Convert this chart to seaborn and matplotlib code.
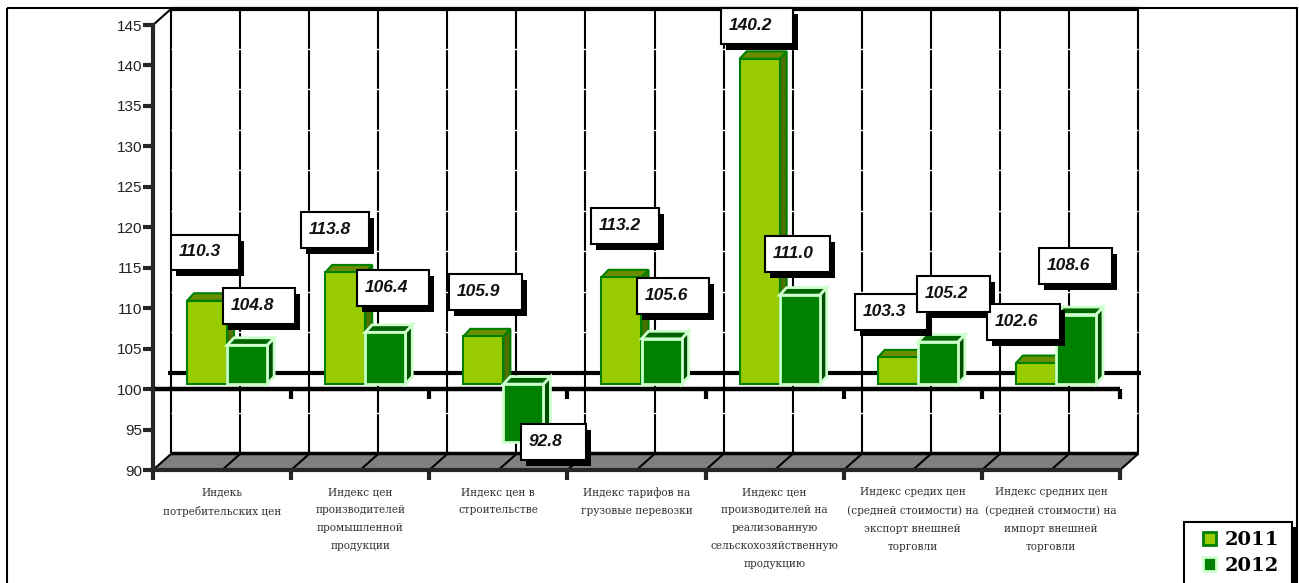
import numpy as np
import pandas as pd
import seaborn as sns
import matplotlib.pyplot as plt
from matplotlib.patches import Patch, Polygon, Rectangle
from matplotlib.transforms import Affine2D

categories = [
    "Индекь\nпотребительских цен",
    "Индекс цен\nпроизводителей\nпромышленной\nпродукции",
    "Индекс цен в\nстроительстве",
    "Индекс тарифов на\nгрузовые перевозки",
    "Индекс цен\nпроизводителей на\nреализованную\nсельскохозяйственную\nпродукцию",
    "Индекс средих цен\n(средней стоимости) на\nэкспорт внешней\nторговли",
    "Индекс средних цен\n(средней стоимости) на\nимпорт внешней\nторговли",
]
values_2011 = [110.3, 113.8, 105.9, 113.2, 140.2, 103.3, 102.6]
values_2012 = [104.8, 106.4, 92.8, 105.6, 111.0, 105.2, 108.6]
y_ticks = [90, 95, 100, 105, 110, 115, 120, 125, 130, 135, 140, 145]

# label boxes in image pixels: left, top, right, bottom
boxes_2011 = [(171, 235, 239, 270), (301, 212, 369, 248), (449, 274, 522, 310), (591, 208, 659, 244),
              (721, 8, 793, 44), (855, 294, 927, 330), (987, 304, 1060, 340)]
boxes_2012 = [(223, 288, 295, 324), (357, 270, 429, 306), (521, 424, 586, 460), (637, 278, 709, 314),
              (765, 236, 830, 272), (917, 276, 990, 312), (1039, 248, 1112, 284)]

W, H = 1299, 583
LIME, GREEN = "#99CC00", "#008000"
sns.set_style("white")
plt.rcParams["font.family"] = ["Liberation Sans", "DejaVu Sans"]

fig = plt.figure(figsize=(W / 100, H / 100), dpi=100, facecolor="white")
ax = fig.add_axes([153 / W, (H - 470) / H, (1120 - 153) / W, 445 / H])
ax.patch.set_visible(False)

px = Affine2D().scale(1, -1).translate(0, H)  # image pixels to display
wall = ax.transData + Affine2D().translate(18, 16.5)
bar_shift = ax.transData + Affine2D().translate(5, 5)

df = pd.DataFrame({
    "category": categories * 2,
    "year": ["2011"] * 7 + ["2012"] * 7,
    "change": [v - 100 for v in values_2011 + values_2012],
})
sns.barplot(data=df, x="category", y="change", hue="year", order=categories,
            palette={"2011": LIME, "2012": GREEN}, saturation=1, width=0.58,
            errorbar=None, bottom=100, legend=False, ax=ax)

ax.set_xlim(-0.5, 6.5)
ax.set_ylim(90, 145)
ax.set_xlabel("")
ax.set_ylabel("")

# back wall and floor
half_steps = np.arange(-0.5, 6.51, 0.5)
ax.vlines(half_steps, 90, 145, colors="black", lw=1.5, transform=wall, clip_on=False, zorder=1)
ax.hlines(y_ticks[1:-1], -0.5, 6.5, colors="white", lw=1, transform=wall, clip_on=False, zorder=1.1)
ax.hlines(145, -0.5, 6.5, colors="black", lw=3, transform=wall, clip_on=False, zorder=1.2)
ax.hlines(100, -0.52, 6.52, colors="black", lw=3, transform=wall, clip_on=False, zorder=1.2)
ax.add_patch(Polygon([(153, 470), (171, 454), (1138, 454), (1120, 470)], closed=True, transform=px,
                     facecolor="#808080", edgecolor="none", clip_on=False, zorder=1.3))
ax.hlines(90, -0.5, 6.5, colors="black", lw=2.5, transform=wall, clip_on=False, zorder=1.4)
step_px = (1120 - 153) / 7
for k in range(15):
    x0 = 153 + k * step_px / 2
    ax.plot([x0, x0 + 18], [470, 454], color="black", lw=1.5, transform=px, clip_on=False, zorder=1.4)
ax.plot([153, 171], [25, 9], color="black", lw=1.5, transform=px, clip_on=False, zorder=1.4)

# front axis at 100
boundaries = np.arange(-0.5, 6.51, 1)
ax.hlines(100, -0.5, 6.5, colors="black", lw=3.2, clip_on=False, zorder=2)
ax.vlines(boundaries[1:], 98.8, 100, colors="black", lw=3, clip_on=False, zorder=2)

# 3d faces of the bars
dx = 7 / step_px
dy = 7.5 / 8.09
styles = [("#008000", "#6B8E00", "#4D7000", 1.5), ("#CCFFCC", "#006400", "#004D00", 2)]
for i, (container, (edge, top_col, side_col, edge_lw)) in enumerate(zip(ax.containers, styles)):
    z = 3 + i
    for bar in container:
        x0, x1 = bar.get_x(), bar.get_x() + bar.get_width()
        low = min(bar.get_y(), bar.get_y() + bar.get_height())
        high = max(bar.get_y(), bar.get_y() + bar.get_height())
        side = [(x1, low), (x1 + dx, low + dy), (x1 + dx, high + dy), (x1, high)]
        top = [(x0, high), (x0 + dx, high + dy), (x1 + dx, high + dy), (x1, high)]
        ax.add_patch(Polygon(side, closed=True, facecolor=side_col, edgecolor=edge, lw=edge_lw,
                             transform=bar_shift, zorder=z))
        ax.add_patch(Polygon(top, closed=True, facecolor=top_col, edgecolor=edge, lw=edge_lw,
                             transform=bar_shift, zorder=z))
        bar.set_transform(bar_shift)
        bar.set_edgecolor(edge)
        bar.set_linewidth(edge_lw)
        bar.set_zorder(z + 0.5)

# value labels
for vals, boxes in [(values_2011, boxes_2011), (values_2012, boxes_2012)]:
    for v, (l, t, r, b) in zip(vals, boxes):
        ax.add_patch(Rectangle((l + 5, t + 6), r - l, b - t, transform=px, facecolor="black",
                               edgecolor="none", clip_on=False, zorder=6))
        ax.add_patch(Rectangle((l, t), r - l, b - t, transform=px, facecolor="white",
                               edgecolor="black", lw=1.5, clip_on=False, zorder=6.1))
        ax.text(l + 8, (t + b) / 2 - 1, f"{v:.1f}", transform=px, ha="left", va="center", fontsize=12.5,
                fontweight="bold", fontstyle="italic", color="#111111", zorder=6.2, clip_on=False)

# axes styling
for name in ["top", "right"]:
    ax.spines[name].set_visible(False)
for name in ["left", "bottom"]:
    ax.spines[name].set_linewidth(3)
    ax.spines[name].set_zorder(2.5)
ax.set_yticks(y_ticks)
ax.tick_params(axis="y", which="major", left=True, length=7.2, width=3, pad=0.5, labelsize=11, labelcolor="#222222")
ax.set_xticks(range(7), categories)
ax.tick_params(axis="x", which="major", bottom=False, pad=9)
ax.set_xticks(boundaries, minor=True)
ax.tick_params(axis="x", which="minor", bottom=True, length=7.2, width=3)
for label in ax.get_xticklabels():
    label.set_fontfamily("DejaVu Serif")
    label.set_fontsize(7.6)
    label.set_linespacing(2.0)
    label.set_color("#333333")
    label.set_verticalalignment("top")

# outer frame and legend
fig.add_artist(Rectangle((7, 8), 1290, 620, transform=px, fill=False, edgecolor="black", lw=1.5))
ax.add_patch(Rectangle((1189, 527), 108, 70, transform=px, facecolor="black", edgecolor="none",
                       clip_on=False, zorder=6.5))
ax.add_patch(Rectangle((1184, 522), 108, 70, transform=px, facecolor="white", edgecolor="black", lw=1.5,
                       clip_on=False, zorder=6.6))
handles = [Patch(facecolor=LIME, edgecolor="#008000", lw=2, label="2011"),
           Patch(facecolor=GREEN, edgecolor="#CCFFCC", lw=2, label="2012")]
leg = ax.legend(handles=handles, loc="upper left", bbox_to_anchor=(1203, 531), bbox_transform=px,
                borderaxespad=0, borderpad=0, handlelength=0.67, handleheight=0.67, handletextpad=0.42,
                labelspacing=0.4, frameon=False, labelcolor="black",
                prop={"family": "DejaVu Serif", "weight": "bold", "size": 14})
leg.set_zorder(7)

fig.savefig("out.png", dpi=100)
